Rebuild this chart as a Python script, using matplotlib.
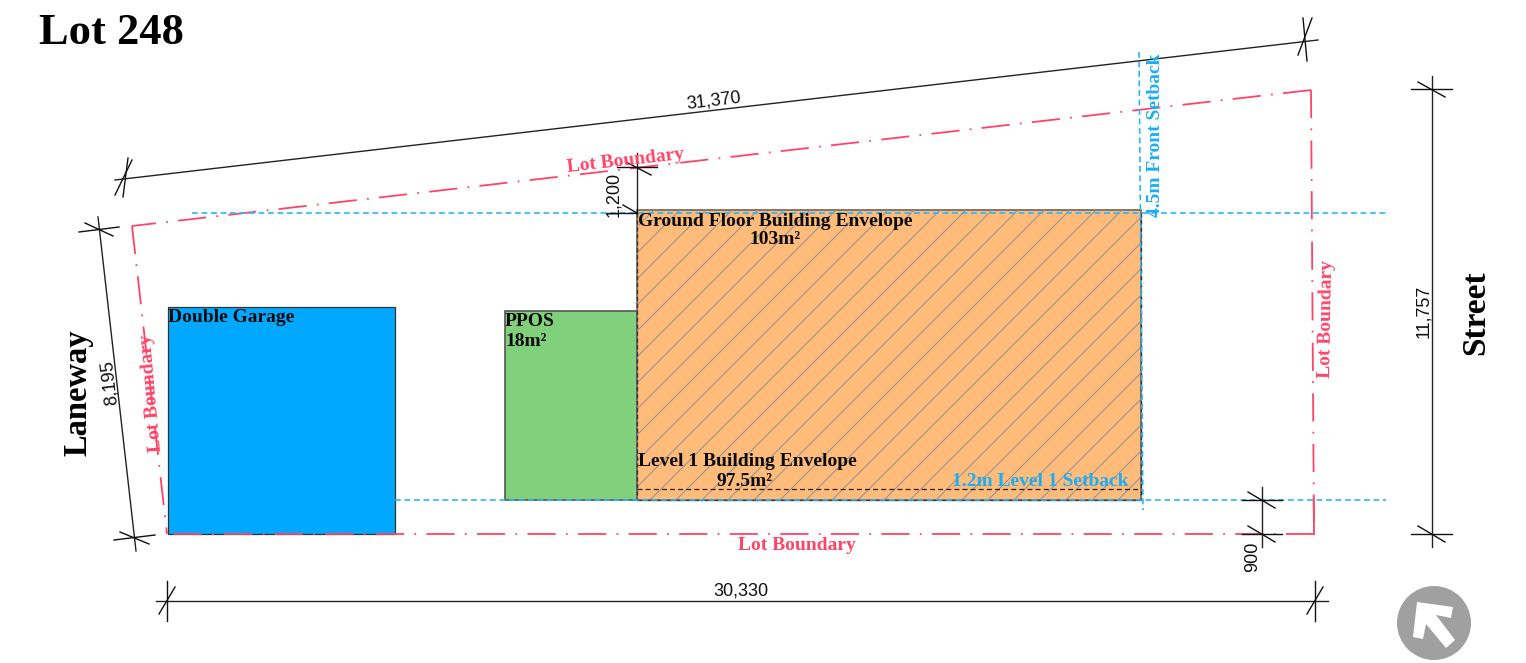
import matplotlib
matplotlib.use('Agg')
import matplotlib.pyplot as plt
from matplotlib.patches import Polygon, Rectangle, Circle
import numpy as np

# everything is read off the plan in picture pixels
# corners run so each side starts where the reference has a full dash
boundary_sides = [
    (1311, 90, 132, 226),
    (1311, 90, 1314, 534),
    (1314, 534, 167, 534),
    (132, 226, 167, 534),
]
# the right side finishes on a solid piece at the bottom corner
boundary_stub = (1313.7, 498, 1314, 534)

garage = (168, 307, 395, 534)
ppos = (505, 311, 637, 500)
envelope = (637, 210, 1141, 500)
level1_line_y = 489

# setback lines: x0, y0, x1, y1
setbacks = [(192, 213, 1386, 213), (395, 500, 1386, 500), (1139, 52, 1143, 510)]

# dimension lines: x0, y0, x1, y1
dim_lines = [
    (115, 180, 1318, 40),
    (98, 217, 136, 551),
    (156, 601, 1328, 601),
    (1432, 76, 1432, 547),
    (1262, 487, 1262, 547),
    (637, 153, 637, 213),
]
# strokes at the dimension ends: x0, y0, x1, y1
dim_ticks = [
    (128, 158, 123, 197), (115, 195, 132, 160),
    (1303, 18, 1307, 61), (1298, 55, 1312, 18),
    (79, 232, 119, 227), (85, 223, 113, 236),
    (114, 540, 155, 535), (120, 532, 149, 544),
    (167, 581, 167, 621), (159, 614, 175, 587),
    (1315, 581, 1315, 621), (1307, 614, 1323, 587),
    (1411, 89, 1452, 89), (1418, 82, 1445, 97),
    (1411, 534, 1452, 534), (1418, 526, 1445, 542),
    (1242, 500, 1282, 500), (1248, 492, 1275, 508),
    (1242, 534, 1282, 534), (1248, 526, 1275, 542),
    (617, 167, 657, 167), (626, 162, 651, 175),
    (617, 213, 637, 213), (623, 205, 637, 213),
]

# text, x, y, rotation
dim_labels = [
    ('31,370', 714, 101, 6.8),
    ('8,195', 110, 382, 96.5),
    ('30,330', 741, 591, 0),
    ('11,757', 1424, 311, 90),
    ('900', 1253, 557, 90),
    ('1,200', 614, 194, 90),
]
lot_labels = [
    ('Lot Boundary', 626, 161, 6.5),
    ('Lot Boundary', 797, 545, 0),
    ('Lot Boundary', 151, 393, 95),
    ('Lot Boundary', 1327, 319, 89),
]

north_centre = (1434, 623)
north_radius = 37
north_arrow_x = [1417, 1453, 1451, 1436, 1455, 1446, 1426, 1423, 1413]
north_arrow_y = [602, 607, 618, 615, 640, 648, 624, 639, 637]

RED = '#FF4468'
BLUE = '#2DB6F5'
SERIF = ['Liberation Serif', 'DejaVu Serif']
SANS = ['Liberation Sans', 'DejaVu Sans']
LABEL_SIZE = 14

fig = plt.figure(figsize=(15.26, 6.63), dpi=100)
ax = fig.add_axes([0, 0, 1, 1])
ax.set_xlim(0, 1526)
ax.set_ylim(663, 0)
ax.axis('off')


def box(corners, **kw):
    x0, y0, x1, y1 = corners
    r = Rectangle((x0, y0), x1 - x0, y1 - y0, **kw)
    ax.add_patch(r)
    return r


box(garage, facecolor='#00A8FF', edgecolor='#333333', linewidth=0.9, zorder=2)
box(ppos, facecolor='#80D07C', edgecolor='#555555', linewidth=1.2, zorder=2)
env = box(envelope, facecolor='#FFBB7A', edgecolor='#666666', linewidth=1.2, zorder=2)

# hatch, matplotlib's own is too tight here
x0, y0, x1, y1 = envelope
for start in np.arange(x0 - 290 + 12, x1 + 290, 26):
    ln, = ax.plot([start, start + 300], [y1 + 5, y1 - 295], color='#8F8F8F', lw=0.7, zorder=3)
    ln.set_clip_path(env)

ax.plot([x0, x0], [y0 + 3, y1], color='#333333', lw=1, ls=(0, (3, 2)), zorder=4)
ax.plot([x1, x1], [y0 + 3, y1], color='#333333', lw=1, ls=(0, (3, 2)), zorder=4)
ax.plot([x0, x1], [level1_line_y, level1_line_y], color='#222222', lw=0.9, ls=(0, (4, 2.5)), zorder=4)
ax.plot([x0, x1], [y1, y1], color='#444444', lw=1, zorder=4)

for xa, ya, xb, yb in boundary_sides:
    ax.plot([xa, xb], [ya, yb], color=RED, lw=1.3, ls=(0, (15.6, 5.7, 1, 5.7)), zorder=5)
ax.plot(boundary_stub[::2], boundary_stub[1::2], color=RED, lw=1.3, zorder=5)

for xa, ya, xb, yb in setbacks:
    ax.plot([xa, xb], [ya, yb], color=BLUE, lw=1.2, ls=(0, (3.5, 2.2)), zorder=5)

for xa, ya, xb, yb in dim_lines:
    ax.plot([xa, xb], [ya, yb], color='#222222', lw=1, zorder=6)
for xa, ya, xb, yb in dim_ticks:
    ax.plot([xa, xb], [ya, yb], color='#111111', lw=1, zorder=6)

for txt, x, y, rot in dim_labels:
    ax.text(x, y, txt, fontsize=13, rotation=rot, family=SANS, color='#111111',
            ha='center', va='center', rotation_mode='anchor', zorder=7)

for txt, x, y, rot in lot_labels:
    ax.text(x, y, txt, fontsize=LABEL_SIZE, rotation=rot, family=SERIF, weight='bold', color=RED,
            ha='center', va='center', rotation_mode='anchor', zorder=7)

ax.text(39, 33, 'Lot 248', fontsize=32, family=SERIF, weight='bold', color='black', ha='left', va='center')
ax.text(1476, 313, 'Street', fontsize=24, family=SERIF, weight='bold', color='black',
        rotation=90, ha='center', va='center')
ax.text(78, 393, 'Laneway', fontsize=23.5, family=SERIF, weight='bold', color='black',
        rotation=90, ha='center', va='center')

ax.text(168, 317, 'Double Garage', fontsize=LABEL_SIZE, family=SERIF, weight='bold', color='#0A0A0A', va='center', zorder=7)
ax.text(505, 321, 'PPOS', fontsize=LABEL_SIZE, family=SERIF, weight='bold', color='#0A0A0A', va='center', zorder=7)
ax.text(505, 341, '18m²', fontsize=LABEL_SIZE, family=SERIF, weight='bold', color='#0A0A0A', va='center', zorder=7)
ax.text(638, 222, 'Ground Floor Building Envelope', fontsize=LABEL_SIZE, family=SERIF, weight='bold',
        color='#0A0A0A', va='center', zorder=7)
ax.text(775, 239, '103m²', fontsize=LABEL_SIZE, family=SERIF, weight='bold', color='#0A0A0A', ha='center', va='center', zorder=7)
ax.text(638, 461, 'Level 1 Building Envelope', fontsize=LABEL_SIZE, family=SERIF, weight='bold',
        color='#0A0A0A', va='center', zorder=7)
ax.text(745, 481, '97.5m²', fontsize=LABEL_SIZE, family=SERIF, weight='bold', color='#0A0A0A', ha='center', va='center', zorder=7)
ax.text(1040, 482, '1.2m Level 1 Setback', fontsize=LABEL_SIZE, family=SERIF, weight='bold', color='#1AAEF5',
        ha='center', va='center', zorder=7)
ax.text(1155, 135, '4.5m Front Setback', fontsize=LABEL_SIZE, family=SERIF, weight='bold', color='#1AAEF5',
        rotation=90, ha='center', va='center', zorder=7)

ax.add_patch(Circle(north_centre, north_radius, facecolor='#A0A0A0', edgecolor='none'))
ax.add_patch(Polygon(np.column_stack([north_arrow_x, north_arrow_y]), closed=True, facecolor='white', edgecolor='none', zorder=3))

fig.savefig('out.png', dpi=100, facecolor='white')
